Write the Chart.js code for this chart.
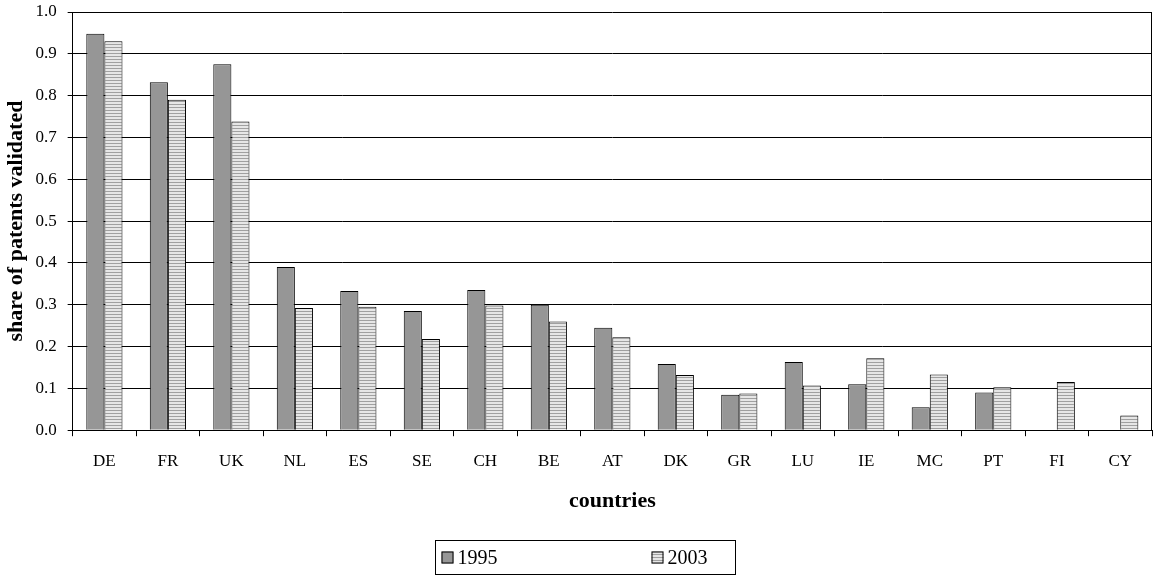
<!DOCTYPE html>
<html>
<head>
<meta charset="utf-8">
<script src="https://cdn.jsdelivr.net/npm/chart.js@4"></script>
<style>
  html, body { margin: 0; padding: 0; background: #fff; }
  #wrap { width: 1154px; height: 576px; }
</style>
</head>
<body>
<div id="wrap"><canvas id="chart" width="1154" height="576"></canvas></div>
<script>
// data
const countries = ['DE', 'FR', 'UK', 'NL', 'ES', 'SE', 'CH', 'BE', 'AT', 'DK', 'GR', 'LU', 'IE', 'MC', 'PT', 'FI', 'CY'];
const share1995 = [0.948, 0.832, 0.875, 0.390, 0.333, 0.285, 0.335, 0.300, 0.245, 0.158, 0.085, 0.163, 0.110, 0.055, 0.090, null, null];
const share2003 = [0.930, 0.790, 0.738, 0.292, 0.295, 0.218, 0.298, 0.260, 0.222, 0.132, 0.088, 0.107, 0.172, 0.133, 0.103, 0.115, 0.035];
const yTicks = [0, 0.1, 0.2, 0.3, 0.4, 0.5, 0.6, 0.7, 0.8, 0.9, 1.0];

const serif = "'Liberation Serif', 'Times New Roman', serif";

// light grey with horizontal stripes, like the 2003 bars
function stripes() {
    const c = document.createElement('canvas');
    c.width = 4; c.height = 3;
    const g = c.getContext('2d');
    g.fillStyle = '#e6e6e6';
    g.fillRect(0, 0, 4, 3);
    g.fillStyle = '#a0a0a0';
    g.fillRect(0, 2, 4, 1);
    return g.createPattern(c, 'repeat');
}

// right border of the plot + framed legend under the axis title
const frames = {
    id: 'frames',
    afterDraw(chart) {
        const ctx = chart.ctx;
        const a = chart.chartArea;
        ctx.save();
        ctx.strokeStyle = '#000';
        ctx.lineWidth = 1;
        ctx.beginPath();
        ctx.moveTo(a.right - 0.5, a.top);
        ctx.lineTo(a.right - 0.5, a.bottom);
        ctx.stroke();

        // legend
        const cx = chart.width / 2 + 8;
        const boxW = 300, boxH = 34;
        const left = Math.round(cx - boxW / 2) + 0.5;
        const top = chart.height - boxH - 1.5;
        ctx.strokeRect(left, top, boxW, boxH);
        const mid = top + boxH / 2;
        ctx.font = '20px ' + serif;
        ctx.textBaseline = 'middle';
        ctx.textAlign = 'left';
        const xs = [left + 6, left + 216];
        chart.data.datasets.forEach((ds, i) => {
            ctx.fillStyle = ds.backgroundColor;
            ctx.fillRect(xs[i], mid - 6, 12, 12);
            ctx.strokeStyle = '#000';
            ctx.strokeRect(xs[i] + 0.5, mid - 5.5, 11, 11);
            ctx.fillStyle = '#000';
            ctx.fillText(ds.label, xs[i] + 16, mid + 1);
        });
        ctx.restore();
    }
};

new Chart(document.getElementById('chart').getContext('2d'), {
    type: 'bar',
    data: {
        labels: countries,
        datasets: [{
            label: '1995',
            data: share1995,
            backgroundColor: '#969696',
            borderColor: '#000',
            borderWidth: 1
        }, {
            label: '2003',
            data: share2003,
            backgroundColor: stripes(),
            borderColor: '#000',
            borderWidth: 1
        }]
    },
    options: {
        responsive: false,
        animation: false,
        layout: { padding: { top: 12, right: 2, left: 3, bottom: 61 } },
        datasets: { bar: { categoryPercentage: 0.57, barPercentage: 1.0 } },
        plugins: {
            tooltip: { enabled: false },
            legend: { display: false }
        },
        scales: {
            x: {
                grid: { display: true, drawOnChartArea: false, offset: true, color: '#000', tickLength: 6 },
                border: { color: '#000' },
                ticks: { color: '#000', font: { family: serif, size: 17 }, padding: 15 },
                title: { display: true, text: 'countries', color: '#000', font: { family: serif, size: 22, weight: 'bold' }, padding: { top: 2, bottom: 0 } }
            },
            y: {
                min: 0, max: 1,
                afterBuildTicks: axis => { axis.ticks = yTicks.map(v => ({ value: v })); },
                afterFit: axis => { axis.paddingTop = 0; },
                grid: { color: '#000', tickLength: 5 },
                border: { color: '#000' },
                ticks: { color: '#000', font: { family: serif, size: 17 }, padding: 11, callback: v => v.toFixed(1) },
                title: { display: true, text: 'share of patents validated', color: '#000', font: { family: serif, size: 22, weight: 'bold' }, padding: { top: 0, bottom: -5 } }
            }
        }
    },
    plugins: [frames]
});
</script>
</body>
</html>
